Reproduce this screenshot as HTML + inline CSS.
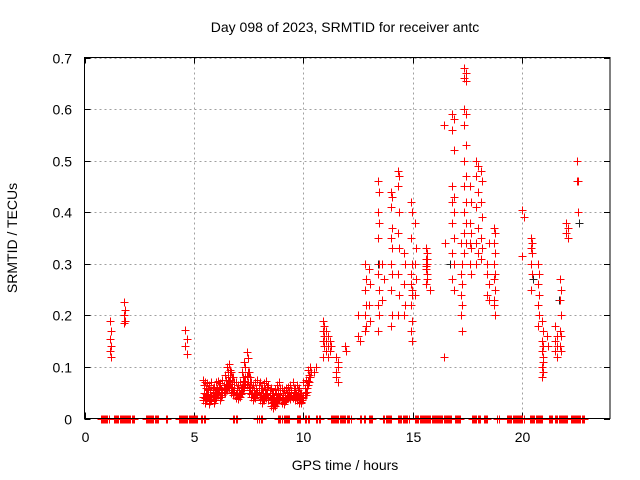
<!DOCTYPE html>
<html><head><meta charset="utf-8"><style>
body{margin:0;background:#fff}
svg{display:block;font-family:"Liberation Sans",sans-serif}
</style></head><body>
<svg id="chart" width="640" height="480" viewBox="0 0 640 480" xmlns="http://www.w3.org/2000/svg">
<rect width="640" height="480" fill="#fff"/>
<text x="345" y="32" font-size="14" text-anchor="middle">Day 098 of 2023, SRMTID for receiver antc</text>
<text transform="translate(17,238) rotate(-90)" font-size="14" text-anchor="middle">SRMTID / TECUs</text>
<text x="345" y="470" font-size="14" text-anchor="middle">GPS time / hours</text>
<g id="grid"></g>
<g id="ticks"></g>
<g id="marks"></g>
<rect x="84.5" y="57.5" width="525.5" height="361" fill="none" stroke="#000" stroke-width="1"/>
</svg>
<script>
const xTicks=[0,5,10,15,20];
const yTicks=[0,0.1,0.2,0.3,0.4,0.5,0.6,0.7];
const yTickLabels=["0","0.1","0.2","0.3","0.4","0.5","0.6","0.7"];
const lowTimes=[5.4,5.5,5.6,5.7,5.8,5.9,6.0,6.1,6.2,6.3,6.4,6.5,6.6,6.7,6.8,6.9,7.0,7.1,7.2,7.3,7.4,7.5,7.6,7.7,7.8,7.9,8.0,8.1,8.2,8.3,8.4,8.5,8.6,8.7,8.8,8.9,9.0,9.1,9.2,9.3,9.4,9.5,9.6,9.7,9.8,9.9,10.0,10.1,10.2];
const lowA=[0.075,0.07,0.068,0.065,0.07,0.062,0.07,0.072,0.068,0.075,0.085,0.1,0.105,0.09,0.08,0.07,0.065,0.07,0.09,0.11,0.128,0.09,0.07,0.065,0.07,0.075,0.07,0.06,0.068,0.072,0.065,0.06,0.05,0.058,0.065,0.07,0.06,0.055,0.06,0.062,0.065,0.07,0.06,0.065,0.06,0.05,0.07,0.075,0.095];
const lowB=[0.05,0.048,0.055,0.045,0.052,0.05,0.055,0.058,0.05,0.06,0.065,0.075,0.08,0.07,0.06,0.055,0.05,0.055,0.07,0.08,0.09,0.07,0.055,0.05,0.055,0.06,0.05,0.045,0.05,0.055,0.05,0.045,0.04,0.042,0.048,0.05,0.045,0.04,0.045,0.05,0.05,0.052,0.045,0.048,0.045,0.04,0.05,0.06,0.08];
const lowC=[0.035,0.03,0.04,0.028,0.035,0.03,0.04,0.045,0.035,0.045,0.05,0.055,0.06,0.05,0.045,0.04,0.038,0.042,0.05,0.06,0.065,0.05,0.042,0.035,0.04,0.045,0.035,0.03,0.035,0.04,0.035,0.025,0.02,0.025,0.03,0.035,0.03,0.028,0.035,0.04,0.038,0.04,0.035,0.035,0.03,0.03,0.04,0.045,0.065];
const clusterTimes=[1.15,1.8,4.6,10.3,10.5,10.9,11.05,11.2,11.5,11.9,12.5,12.8,13.0,13.4,13.6,14.0,14.3,14.6,14.9,15.1,15.6,15.8,16.4,16.8,17.2,17.35,17.6,17.9,18.1,18.4,18.7,20.0,20.4,20.7,20.9,21.1,21.5,21.7,22.0,22.5];
const clusterValues=[
[0.19,0.17,0.155,0.14,0.13,0.12],[0.225,0.21,0.2,0.19,0.185],[0.172,0.155,0.14,0.125],
[0.08,0.09,0.1],[0.09,0.1],[0.19,0.18,0.17,0.16,0.15,0.14,0.12],[0.17,0.16,0.15,0.14,0.13,0.12],
[0.15,0.14,0.13],[0.12,0.1,0.08,0.07,0.09,0.11],[0.14,0.13],[0.2,0.15,0.16],
[0.3,0.27,0.25,0.22,0.2,0.18,0.17],[0.29,0.26,0.22,0.19],
[0.46,0.44,0.4,0.38,0.35,0.3,0.28,0.25,0.22,0.2,0.17],[0.3,0.27,0.23],
[0.44,0.43,0.41,0.37,0.35,0.33,0.3,0.28,0.25,0.2,0.18],[0.48,0.47,0.45,0.4,0.36,0.33,0.28,0.24,0.2],
[0.32,0.3,0.26,0.22,0.2],[0.42,0.4,0.35,0.3,0.28,0.25,0.22,0.19,0.17,0.15,0.26,0.24],
[0.38,0.33,0.3,0.27,0.24],[0.33,0.32,0.31,0.3,0.29,0.28,0.3,0.31,0.295,0.27,0.26],[0.25],
[0.57,0.34,0.12],[0.59,0.58,0.56,0.52,0.45,0.43,0.42,0.4,0.38,0.35,0.32,0.3,0.27,0.25],
[0.34,0.3,0.28,0.26,0.24,0.22,0.2,0.17],
[0.68,0.67,0.66,0.655,0.6,0.59,0.57,0.53,0.5,0.47,0.45,0.42,0.4,0.38,0.36,0.34,0.32],
[0.45,0.42,0.38,0.36,0.34,0.33,0.3,0.28],[0.5,0.49,0.47,0.44,0.41,0.37,0.34,0.32,0.3],
[0.48,0.46,0.42,0.39,0.35,0.33,0.31],[0.28,0.26,0.24,0.23,0.3,0.34],
[0.37,0.36,0.34,0.32,0.3,0.28,0.27,0.25,0.22,0.2,0.23],[0.405,0.39,0.315],
[0.35,0.34,0.33,0.32,0.3,0.28,0.25],[0.3,0.28,0.26,0.24,0.22,0.2,0.18],
[0.19,0.17,0.15,0.14,0.13,0.12,0.1,0.09,0.08,0.11],[0.16,0.14],
[0.18,0.16,0.15,0.14,0.13,0.12],[0.27,0.25,0.23,0.2,0.17,0.16,0.14,0.13],
[0.38,0.37,0.36,0.35],[0.5,0.46,0.46,0.4]];
const zeroTimes=[0.75,0.85,0.95,1.05,1.35,1.45,1.55,1.65,1.75,1.85,1.95,2.05,2.15,2.22,2.8,2.9,3.0,3.1,3.2,3.3,3.7,4.3,4.4,4.5,4.6,4.7,4.8,4.9,5.0,5.1,5.3,5.45,6.8,6.9,7.9,8.05,8.85,8.95,9.1,9.2,9.3,9.7,9.8,10.05,10.2,10.55,10.7,11.25,11.35,11.45,11.55,11.65,11.75,11.85,12.0,12.1,12.6,12.75,13.0,13.1,13.65,13.75,13.85,13.95,14.3,14.4,14.55,14.65,14.75,15.1,15.2,15.3,15.4,15.5,15.6,15.7,15.8,15.9,16.0,16.1,16.2,16.3,16.4,16.5,16.6,16.7,16.9,17.0,17.1,17.7,17.8,17.9,18.0,18.25,18.35,18.86,19.3,19.4,19.5,19.6,19.7,19.8,19.9,20.0,20.35,20.45,20.55,20.65,20.75,20.85,21.2,21.3,21.5,21.6,21.7,21.8,21.9,22.0,22.2,22.3,22.4,22.5,22.6,22.7,22.78];
const blackTimes=[13.4,14.0,18.7,21.65,22.6,16.7,20.5];
const blackValues=[0.3,0.35,0.3,0.23,0.38,0.3,0.27];

const L=84.5,R=610,T=57.5,B=418.5,XMAX=24,YMAX=0.7;
function xs(t){return L+(R-L)*t/XMAX;}
function ys(v){return B-(B-T)*v/YMAX;}
const NS="http://www.w3.org/2000/svg";
const grid=document.getElementById('grid'),ticks=document.getElementById('ticks'),marks=document.getElementById('marks');
function line(p,x1,y1,x2,y2,st,dash){const l=document.createElementNS(NS,'line');l.setAttribute('x1',x1);l.setAttribute('y1',y1);l.setAttribute('x2',x2);l.setAttribute('y2',y2);l.setAttribute('stroke',st);if(dash)l.setAttribute('stroke-dasharray',dash);p.appendChild(l);return l;}
function txt(x,y,s,anchor){const t=document.createElementNS(NS,'text');t.setAttribute('x',x);t.setAttribute('y',y);t.setAttribute('font-size','14');t.setAttribute('text-anchor',anchor);t.textContent=s;ticks.appendChild(t);return t;}
xTicks.forEach(v=>{const x=Math.round(xs(v))+0.5;
 if(v>0){const g=line(grid,x,T,x,B,'#a0a0a0','2,3');
 
 }
 line(ticks,x,B,x,B-6,'#000');line(ticks,x,T,x,T+6,'#000');
 const t=txt(x,442,String(v),'middle');
 
 });
yTicks.forEach((v,i)=>{const y=Math.round(ys(v))+0.5;
 if(v>0){const g=line(grid,L,y,R,y,'#a0a0a0','2,3');
 
 }
 line(ticks,L,y,L+6,y,'#000');line(ticks,R,y,R-6,y,'#000');
 const t=txt(72,y+5,yTickLabels[i],'end');
 
 });
function plus(t,v,color){const x=Math.round(xs(t))+0.5,y=Math.round(ys(v))+0.5;
 const p=document.createElementNS(NS,'path');
 p.setAttribute('d',`M${x-4} ${y}H${x+4}M${x} ${y-4}V${y+4}`);
 p.setAttribute('stroke',color);p.setAttribute('fill','none');
 
 
 marks.appendChild(p);}
blackTimes.forEach((t,i)=>plus(t,blackValues[i],'#222'));
lowTimes.forEach((t,i)=>{plus(t,lowA[i],'red');plus(t+0.05,lowA[i]-0.01,'red');plus(t+0.05,lowB[i],'red');plus(t,lowB[i]-0.008,'red');plus(t,lowC[i],'red');plus(t+0.05,lowC[i]+0.006,'red');});
clusterTimes.forEach((t,i)=>clusterValues[i].forEach((v,j)=>plus(t+(j%2?0.06:0),v,'red')));
zeroTimes.forEach(t=>{plus(t,0,'red');plus(t+0.05,0,'red');});
</script>
</body></html>
